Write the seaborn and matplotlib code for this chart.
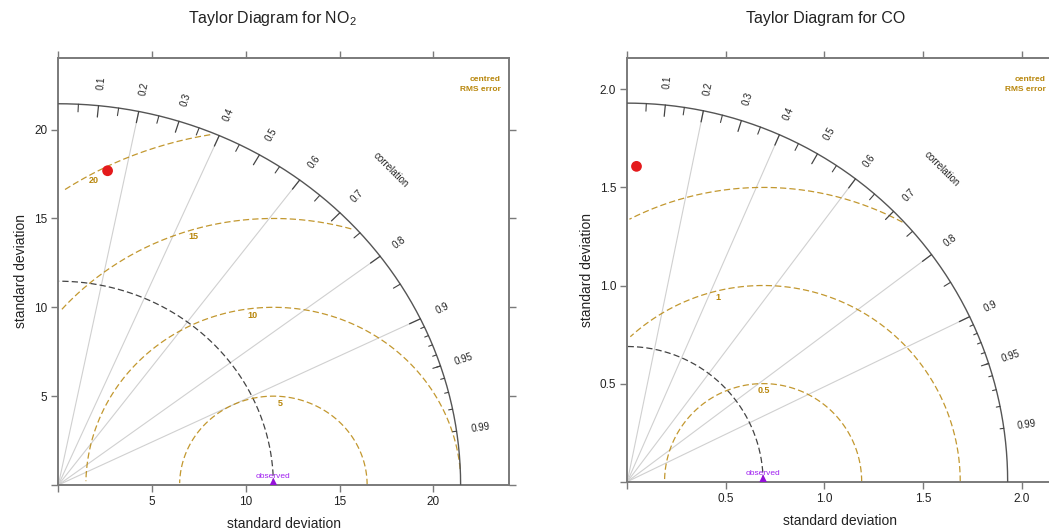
import numpy as np
import matplotlib
matplotlib.use("Agg")
import matplotlib.pyplot as plt
import seaborn as sns
import pandas as pd

# values
titles = ["Taylor Diagram for NO$_2$", "Taylor Diagram for CO"]
obs_sd = [11.47, 0.689]
mod_sd = [17.88, 1.608]
mod_r = [0.147, 0.029]
rms_levels = [[5, 10, 15, 20], [0.5, 1.0, 1.5]]
rms_labels = [["5", "10", "15", "20"], ["0.5", "1", "1.5"]]
axis_ticks = [[0, 5, 10, 15, 20], [0, 0.5, 1.0, 1.5, 2.0]]
axis_ticklabels = [["", "5", "10", "15", "20"], ["", "0.5", "1.0", "1.5", "2.0"]]
corr_lines = [0.2, 0.4, 0.6, 0.8, 0.9]
corr_labels = [0.1, 0.2, 0.3, 0.4, 0.5, 0.6, 0.7, 0.8, 0.9, 0.95, 0.99]

sns.set_theme(style="white")
plt.rcParams["font.family"] = ["Liberation Sans", "DejaVu Sans"]
plt.rcParams["mathtext.default"] = "regular"

rms_col = "#B8860B"
spine_col = "#7a7a7a"

fig = plt.figure(figsize=(10.49, 5.31), dpi=100)
# panel boxes in figure pixels: left, bottom, width, height
boxes = [(58.3, 46, 450.6, 427), (627.3, 49.3, 426, 424)]
title_x = [272, 826]


def taylor(ax, i):
    sd_o = obs_sd[i]
    maxsd = 1.2 * max(mod_sd[i], sd_o)
    lim = 1.12 * maxsd
    ax.set_xlim(0, lim)
    ax.set_ylim(0, lim)

    # correlation rays
    for r in corr_lines:
        ax.plot([0, maxsd * r], [0, maxsd * np.sqrt(1 - r ** 2)],
                color="#d0d0d0", lw=0.8, zorder=1)

    # outer arc
    t = np.linspace(0, np.pi / 2, 300)
    ax.plot(maxsd * np.cos(t), maxsd * np.sin(t), color="#555555", lw=1.0, zorder=3)

    # arc ticks
    for vals, frac, lw in [(np.arange(0.1, 0.91, 0.1), 0.97, 0.9),
                           (np.arange(0.05, 0.96, 0.1), 0.98, 0.8),
                           (np.arange(0.91, 0.995, 0.01), 0.99, 0.8)]:
        a = np.arccos(vals)
        for ang in a:
            ax.plot([np.cos(ang) * maxsd, np.cos(ang) * frac * maxsd],
                    [np.sin(ang) * maxsd, np.sin(ang) * frac * maxsd],
                    color="#444444", lw=lw, zorder=3)

    # correlation labels
    for r in corr_labels:
        a = np.arccos(r)
        ax.text(np.cos(a) * 1.06 * maxsd, np.sin(a) * 1.06 * maxsd, f"{r:g}",
                rotation=np.degrees(a), ha="center", va="center",
                fontsize=7, color="#222222", rotation_mode="anchor")
    ax.text(np.cos(np.pi / 4) * 1.17 * maxsd, np.sin(np.pi / 4) * 1.17 * maxsd,
            "correlation", rotation=-45, ha="center", va="center",
            fontsize=7, color="#222222", rotation_mode="anchor")

    # observed sd arc
    ax.plot(sd_o * np.cos(t), sd_o * np.sin(t), color="#444444", lw=0.9,
            dashes=(5, 2.5), zorder=2)

    # centred rms arcs
    theta = np.arange(0, np.pi, 0.03)
    lpos = np.linspace(45, 70, len(rms_levels[i]) + 1)[1:]
    for g, lab, lp in zip(rms_levels[i], rms_labels[i], lpos):
        xc = np.cos(theta) * g + sd_o
        yc = np.sin(theta) * g
        out = np.where(xc ** 2 + yc ** 2 > maxsd ** 2)[0]
        start = out.max() + 1 if len(out) else 0
        neg = np.where(xc < 0)[0]
        end = neg.min() - 1 if len(neg) else len(xc) - 1
        ax.plot(xc[start:end + 1], yc[start:end + 1], color=rms_col, lw=0.9,
                dashes=(5, 2.5), alpha=0.85, zorder=2)
        k = int(lp) - 1
        if xc[k] >= 0:
            ax.annotate(lab, (xc[k], yc[k]), xytext=(0, -2), textcoords="offset points",
                        ha="center", va="top", fontsize=6.5, color=rms_col,
                        fontweight="bold")

    ax.text(1.1 * maxsd, 1.05 * maxsd, "centred\nRMS error", ha="right", va="center",
            fontsize=6, color=rms_col, fontweight="bold", linespacing=1.6)

    # observed point
    obs_df = pd.DataFrame({"x": [sd_o], "y": [0.0]})
    sns.scatterplot(data=obs_df, x="x", y="y", ax=ax, marker="^", s=110,
                    color="#9410d8", edgecolor="none", zorder=5, clip_on=True)
    ax.annotate("observed", (sd_o, 0), xytext=(0, 3.5), textcoords="offset points",
                ha="center", va="bottom", fontsize=6, color="#a020f0")

    # model point
    mod_df = pd.DataFrame({"x": [mod_sd[i] * mod_r[i]],
                           "y": [mod_sd[i] * np.sqrt(1 - mod_r[i] ** 2)]})
    sns.scatterplot(data=mod_df, x="x", y="y", ax=ax, s=60, color="#E41A1C",
                    edgecolor="none", zorder=6)

    ax.set_xticks(axis_ticks[i])
    ax.set_xticklabels(axis_ticklabels[i])
    ax.set_yticks(axis_ticks[i])
    ax.set_yticklabels(axis_ticklabels[i])
    ax.tick_params(direction="out", length=5, width=1, color=spine_col, labelsize=8.5,
                   top=True, right=True, bottom=True, left=True,
                   labeltop=False, labelright=False,
                   pad=3, labelcolor="#222222")
    for s in ax.spines.values():
        s.set_color(spine_col)
        s.set_linewidth(1.4)
    ax.set_xlabel("standard deviation", fontsize=10, labelpad=6.5, color="#222222")
    ax.set_ylabel("standard deviation", fontsize=10, labelpad=4, color="#222222")


W, H = 1049, 531
for i, (l, b, w, h) in enumerate(boxes):
    ax = fig.add_axes([l / W, b / H, w / W, h / H])
    taylor(ax, i)
    fig.text(title_x[i] / W, 1 - 18 / H, titles[i], ha="center", va="center",
             fontsize=11.5, color="#222222")

fig.savefig("out.png", dpi=100)
